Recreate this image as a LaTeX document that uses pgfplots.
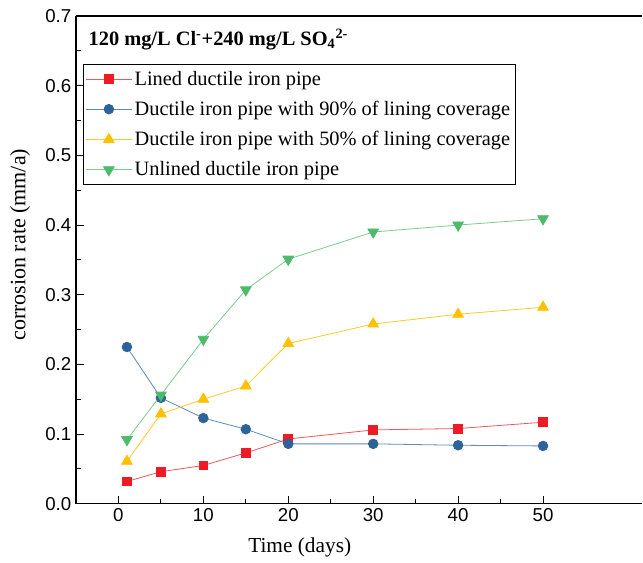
\documentclass[border=0pt]{standalone}
\usepackage{pgfplots}
\pgfplotsset{compat=1.18}
\usepackage{fontspec}
\setmainfont{Liberation Serif}
\setsansfont{Liberation Sans}

\definecolor{cred}{HTML}{ED1C24}
\definecolor{cblue}{HTML}{2E6399}
\definecolor{cyellow}{HTML}{FFC000}
\definecolor{cgreen}{HTML}{4EBA6C}

\begin{document}
\begin{tikzpicture}
\begin{axis}[
    scale only axis,
    width=425pt,
    height=366pt,
    xmin=-5, xmax=61.7,
    ymin=0, ymax=0.7,
    axis x line=box,
    axis y line=left,
    axis line style={-, line width=0.9pt},
    xtick={0,10,20,30,40,50},
    ytick={0,0.1,0.2,0.3,0.4,0.5,0.6,0.7},
    minor x tick num=1,
    minor y tick num=1,
    xtick pos=bottom,
    tick align=inside,
    major tick length=6pt,
    minor tick length=3.5pt,
    tick style={line width=0.8pt, black},
    /pgf/number format/assume math mode=true,
    yticklabel style={/pgf/number format/fixed, /pgf/number format/fixed zerofill, /pgf/number format/precision=1},
    tick label style={font=\sffamily\fontsize{14}{16}\selectfont},
    xlabel={Time (days)},
    ylabel={corrosion rate (mm/a)},
    every axis x label/.style={at={(axis description cs:0.395,-0.090)}, anchor=center, font=\fontsize{16}{18}\selectfont},
    every axis y label/.style={at={(axis description cs:-0.0988,0.531)}, rotate=90, anchor=center, font=\fontsize{16.5}{18}\selectfont},
    legend cell align=left,
    legend style={at={(axis description cs:0.012,0.902)}, anchor=north west,
        draw=black, line width=0.6pt, font=\fontsize{15.3}{17}\selectfont,
        row sep=6.5pt, inner xsep=2pt, inner ysep=3pt},
    legend image code/.code={\draw[mark repeat=2,mark phase=2,#1] plot coordinates {(0pt,0pt)(17pt,0pt)(34pt,0pt)};},
    every axis plot/.append style={line width=0.6pt},
]
\addplot[color=cred!75, mark=square*, mark size=3.3pt, mark options={fill=cred, draw=cred}] coordinates {
    (1,0.032) (5,0.046) (10,0.055) (15,0.073) (20,0.093) (30,0.106) (40,0.108) (50,0.117)
};
\addlegendentry{Lined ductile iron pipe}
\addplot[color=cblue!75, mark=*, mark size=3.6pt, mark options={fill=cblue, draw=cblue}] coordinates {
    (1,0.225) (5,0.152) (10,0.123) (15,0.107) (20,0.086) (30,0.086) (40,0.084) (50,0.083)
};
\addlegendentry{Ductile iron pipe with 90\% of lining coverage}
\addplot[color=cyellow!85, mark=triangle*, mark size=4.6pt, mark options={fill=cyellow, draw=cyellow}] coordinates {
    (1,0.061) (5,0.129) (10,0.150) (15,0.169) (20,0.230) (30,0.258) (40,0.272) (50,0.282)
};
\addlegendentry{Ductile iron pipe with 50\% of lining coverage}
\addplot[color=cgreen!75, mark=triangle*, mark size=4.6pt, mark options={fill=cgreen, draw=cgreen, rotate=180}] coordinates {
    (1,0.092) (5,0.156) (10,0.236) (15,0.307) (20,0.351) (30,0.390) (40,0.400) (50,0.409)
};
\addlegendentry{Unlined ductile iron pipe}
\node[anchor=west, font=\bfseries\fontsize{15.3}{17}\selectfont] at (axis description cs:0.014,0.951)
    {120 mg/L Cl\textsuperscript{-}+240 mg/L SO\textsubscript{4}\textsuperscript{2-}};
\end{axis}
\path (current axis.south west) ++(-57pt,-44.25pt) (current axis.north east) ++(0pt,12pt);
\end{tikzpicture}
\end{document}
